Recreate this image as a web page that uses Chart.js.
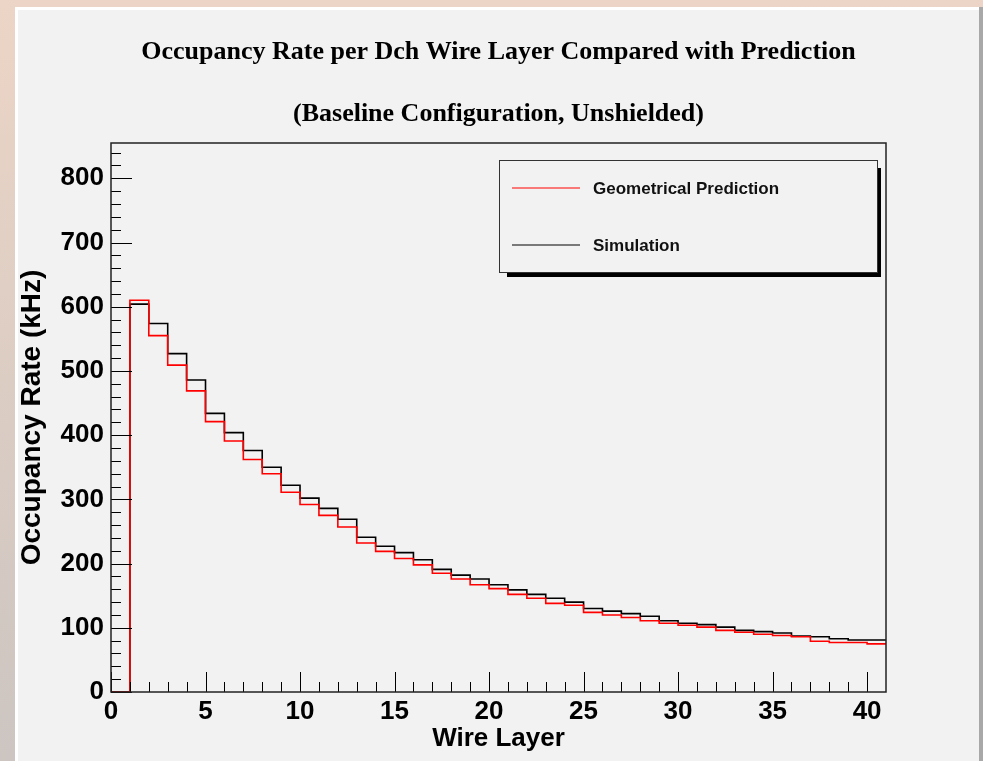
<!DOCTYPE html>
<html>
<head>
<meta charset="utf-8">
<script src="https://cdn.jsdelivr.net/npm/chart.js@4.4.0/dist/chart.umd.min.js"></script>
<style>
html, body { margin: 0; padding: 0; width: 983px; height: 761px; overflow: hidden;
  background: linear-gradient(#ecd5c6, #ccc5c1); }
.panel { position: absolute; left: 15px; top: 7px; width: 961px; height: 760px;
  border-left: 3px solid #fff; border-top: 3px solid #fff; background: #f2f2f2;
  box-shadow: 4px 0 0 #a8a8a8; }
.panel canvas { position: absolute; left: 0; top: 0; }
</style>
</head>
<body>
<div class="panel"><canvas id="occ" width="961" height="751"></canvas></div>
<script>
// wire layers 1..40, bin 0 is empty
var nLayers = 40;
var prediction = [610, 555, 509, 469, 421, 391, 362, 340, 311, 292,
                  275, 257, 232, 219, 208, 198, 185, 176, 167, 161,
                  152, 146, 138, 135, 124, 120, 116, 111, 107, 104,
                  101, 96, 93, 90, 88, 86, 79, 77, 77, 75];
var simulation = [604, 574, 527, 486, 434, 404, 376, 350, 322, 302,
                  286, 269, 241, 227, 217, 206, 191, 182, 176, 167,
                  159, 152, 146, 140, 130, 126, 122, 118, 111, 107,
                  105, 101, 96, 94, 92, 87, 86, 83, 81, 81];
var labels = ['Geometrical Prediction', 'Simulation'];

// histogram outline: empty bin 0, then each layer, closing at the last edge
function histPoints(vals) {
    var pts = [{x: 0, y: 0}];
    for (var i = 0; i < vals.length; i++) pts.push({x: i + 1, y: vals[i]});
    pts.push({x: vals.length + 1, y: vals[vals.length - 1]});
    return pts;
}

const helv = 'Liberation Sans, Arial, Helvetica, sans-serif';
const times = 'Liberation Serif, Times New Roman, serif';

// ROOT style frame with inside ticks
const frameTicks = {
    id: 'frameTicks',
    afterDraw(chart) {
        const ctx = chart.ctx;
        const a = chart.chartArea;
        const x = chart.scales.x, y = chart.scales.y;
        ctx.save();
        ctx.strokeStyle = '#000';
        ctx.lineWidth = 1;
        ctx.beginPath();
        for (let v = 0; v <= nLayers; v++) {
            const px = Math.round(x.getPixelForValue(v)) + 0.5;
            const len = v % 5 === 0 ? 20 : 10;
            ctx.moveTo(px, a.bottom);
            ctx.lineTo(px, a.bottom - len);
        }
        for (let v = 0; v <= y.max; v += 20) {
            const py = Math.round(y.getPixelForValue(v)) + 0.5;
            const len = v % 100 === 0 ? 21 : 10;
            ctx.moveTo(a.left, py);
            ctx.lineTo(a.left + len, py);
        }
        ctx.stroke();
        ctx.lineWidth = 1.5;
        ctx.strokeStyle = '#222';
        ctx.strokeRect(a.left, a.top, a.right - a.left, a.bottom - a.top);
        ctx.restore();
    }
};

// legend box drawn inside the frame
const boxLegend = {
    id: 'boxLegend',
    afterDraw(chart) {
        const ctx = chart.ctx;
        const bx = 481, by = 150, bw = 378, bh = 112;
        ctx.save();
        ctx.fillStyle = '#000';
        ctx.fillRect(bx + 8, by + 8, bw - 4, bh - 3);
        ctx.fillStyle = '#f2f2f2';
        ctx.fillRect(bx, by, bw, bh);
        ctx.strokeStyle = '#333';
        ctx.lineWidth = 1;
        ctx.strokeRect(bx + 0.5, by + 0.5, bw, bh);
        ctx.font = 'bold 17px ' + helv;
        ctx.textBaseline = 'middle';
        chart.data.datasets.forEach(function(ds, i) {
            const ly = by + 28 + i * 57;
            ctx.strokeStyle = ds.borderColor;
            ctx.lineWidth = 1.2;
            ctx.beginPath();
            ctx.moveTo(bx + 13, ly);
            ctx.lineTo(bx + 81, ly);
            ctx.stroke();
            ctx.fillStyle = '#111';
            ctx.fillText(ds.label, bx + 94, ly + 1.5);
        });
        ctx.restore();
    }
};

new Chart(document.getElementById('occ'), {
    type: 'line',
    data: {
        datasets: [{
            label: labels[0],
            data: histPoints(prediction),
            borderColor: '#ff0000',
            borderWidth: 1.6,
            stepped: 'before',
            pointRadius: 0,
            fill: false,
            clip: 3
        }, {
            label: labels[1],
            data: histPoints(simulation),
            borderColor: '#000000',
            borderWidth: 1.6,
            stepped: 'before',
            pointRadius: 0,
            fill: false,
            clip: 3
        }]
    },
    options: {
        responsive: false,
        animation: false,
        layout: { padding: 0 },
        plugins: {
            legend: { display: false },
            tooltip: { enabled: false },
            title: {
                display: true,
                text: 'Occupancy Rate per Dch Wire Layer Compared with Prediction',
                color: '#000',
                font: { family: times, size: 26, weight: 'bold', lineHeight: 1.2 },
                padding: { top: 27, bottom: 0 }
            },
            subtitle: {
                display: true,
                text: '(Baseline Configuration, Unshielded)',
                color: '#000',
                font: { family: times, size: 26, weight: 'bold', lineHeight: 1.2 },
                padding: { top: 30, bottom: 13.6 }
            }
        },
        scales: {
            x: {
                type: 'linear',
                min: 0,
                max: nLayers + 1,
                afterFit: function(s) { s.height = 69; },
                grid: { display: false, drawTicks: false },
                border: { display: false },
                ticks: {
                    stepSize: 5,
                    includeBounds: false,
                    maxRotation: 0,
                    autoSkip: false,
                    padding: 4,
                    color: '#000',
                    font: { family: helv, size: 26, weight: 'bold' }
                },
                title: {
                    display: true,
                    text: 'Wire Layer',
                    color: '#000',
                    font: { family: helv, size: 26, weight: 'bold', lineHeight: 1 },
                    padding: { top: 0, bottom: 9 }
                }
            },
            y: {
                min: 0,
                max: 855,
                afterFit: function(s) { s.width = 93; },
                grid: { display: false, drawTicks: false },
                border: { display: false },
                ticks: {
                    stepSize: 100,
                    includeBounds: false,
                    padding: 7,
                    color: '#000',
                    font: { family: helv, size: 26, weight: 'bold' }
                },
                title: {
                    display: true,
                    text: 'Occupancy Rate (kHz)',
                    color: '#000',
                    font: { family: helv, size: 28, weight: 'bold', lineHeight: 1 },
                    padding: { top: 0, bottom: 0 }
                }
            },
            // empty right margin so the titles stay centred on the pad
            yRight: {
                position: 'right',
                min: 0,
                max: 855,
                afterFit: function(s) { s.width = 93; },
                grid: { display: false, drawTicks: false },
                border: { display: false },
                ticks: { display: false }
            }
        }
    },
    plugins: [frameTicks, boxLegend]
});
</script>
</body>
</html>
